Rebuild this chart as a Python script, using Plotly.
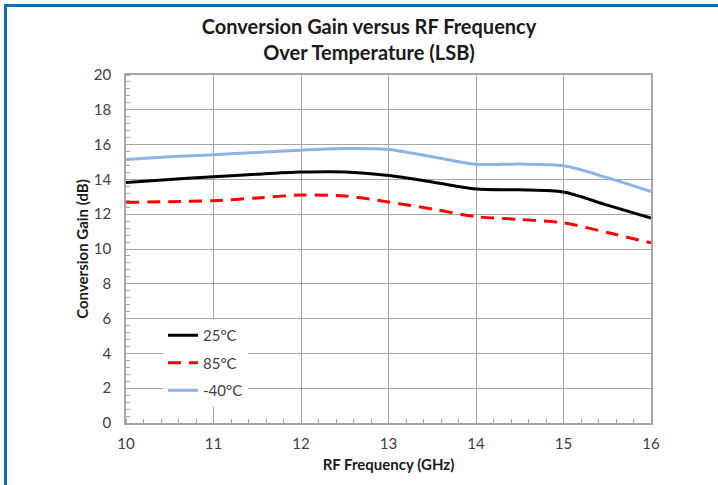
import plotly.graph_objects as go

freq = [10, 10.5, 11, 11.5, 12, 12.5, 13, 13.5, 14, 14.5, 15, 15.5, 16]
gain_25c = [13.82, 14.0, 14.15, 14.3, 14.42, 14.43, 14.22, 13.85, 13.45, 13.4, 13.27, 12.52, 11.78]
gain_85c = [12.68, 12.72, 12.78, 12.93, 13.1, 13.05, 12.7, 12.3, 11.86, 11.7, 11.5, 10.95, 10.35]
gain_m40c = [15.15, 15.3, 15.42, 15.55, 15.68, 15.78, 15.72, 15.3, 14.87, 14.88, 14.78, 14.1, 13.3]
series_names = ["25°C", "85°C", "-40°C"]
x_ticks = [10, 11, 12, 13, 14, 15, 16]
y_ticks = [0, 2, 4, 6, 8, 10, 12, 14, 16, 18, 20]

FONT = "Lato"
fig = go.Figure()
styles = [
    dict(color="#000000", width=3),
    dict(color="#FF0000", width=3, dash="13px,8px"),
    dict(color="#8DB3E2", width=3),
]
for i, (name, ys) in enumerate(zip(series_names, [gain_25c, gain_85c, gain_m40c])):
    fig.add_trace(go.Scatter(x=freq, y=ys, mode="lines", name=name,
                             line=dict(shape="spline", smoothing=0.8, **styles[i]),
                             legendgroup=f"g{i}"))

W, H = 718, 485
L, R, T, B = 126, 651, 75, 423
pw, ph = R - L, B - T
def px(x): return (x - L) / pw
def py(y): return (B - y) / ph

fig.update_layout(
    width=W, height=H,
    margin=dict(l=L, r=W - R, t=T, b=H - B, autoexpand=False),
    paper_bgcolor="white", plot_bgcolor="white",
    font=dict(family=FONT, color="#404040", size=15),
    title=dict(text="<b>Conversion Gain versus RF Frequency<br>Over Temperature (LSB)</b>",
               x=369 / W, xanchor="center", y=1 - 34 / H, yanchor="middle",
               font=dict(family=FONT, size=20, color="#1a1a1a")),
    legend=dict(x=px(163), y=py(319), xanchor="left", yanchor="top",
                bgcolor="white", borderwidth=0, tracegroupgap=5,
                font=dict(family=FONT, size=15, color="#404040")),
    showlegend=True,
    shapes=[
        dict(type="line", xref="paper", yref="paper", x0=px(5.5), x1=px(5.5), y0=py(4), y1=py(490),
             line=dict(color="#0B6FB5", width=3)),
        dict(type="line", xref="paper", yref="paper", x0=px(4), x1=px(720), y0=py(5.5), y1=py(5.5),
             line=dict(color="#0B6FB5", width=3)),
    ],
)
fig.update_xaxes(range=[10, 16], tickvals=x_ticks, ticktext=[str(v) for v in x_ticks],
                 automargin=False,
                 showgrid=True, gridcolor="#A6A6A6", gridwidth=1,
                 showline=True, linecolor="#A6A6A6", linewidth=1.5, mirror=True,
                 ticks="", zeroline=False, ticklabelstandoff=6,
                 minor=dict(dtick=0.2, ticks="inside", ticklen=4, tickcolor="#A6A6A6", showgrid=False),
                 title=dict(text="<b>RF Frequency (GHz)</b>", standoff=9,
                            font=dict(family=FONT, size=15, color="#1a1a1a")),
                 tickfont=dict(family=FONT, size=15, color="#404040"))
fig.update_yaxes(range=[0, 20], tickvals=y_ticks, ticktext=[str(v) for v in y_ticks],
                 automargin=False,
                 showgrid=True, gridcolor="#A6A6A6", gridwidth=1,
                 showline=True, linecolor="#A6A6A6", linewidth=1.5, mirror=True,
                 ticks="", zeroline=False, ticklabelstandoff=10,
                 minor=dict(dtick=0.4, ticks="inside", ticklen=4, tickcolor="#A6A6A6", showgrid=False),
                 title=dict(text="<b>Conversion Gain (dB)</b>", standoff=2,
                            font=dict(family=FONT, size=15, color="#1a1a1a")),
                 tickfont=dict(family=FONT, size=15, color="#404040"))

fig.write_html("out.html")
